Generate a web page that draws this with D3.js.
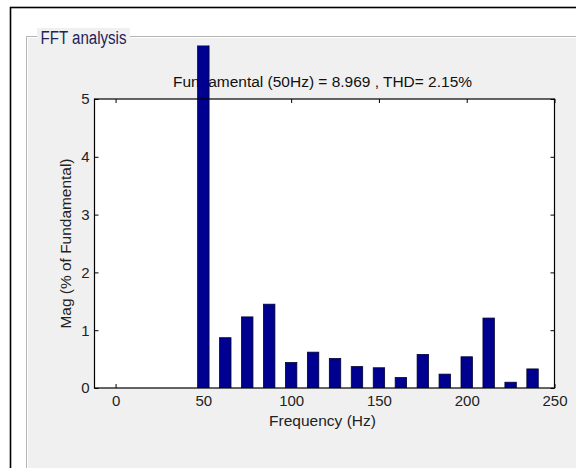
<!DOCTYPE html>
<html>
<head>
<meta charset="utf-8">
<script src="https://cdn.jsdelivr.net/npm/d3@7"></script>
<style>
  body { margin: 0; background: #fff; }
  text { font-family: "Liberation Sans", Arial, sans-serif; }
</style>
</head>
<body>
<div id="chart-area"></div>
<script>
// dados do espectro (% da fundamental)
const freqs = [0, 12.5, 25, 37.5, 50, 62.5, 75, 87.5, 100, 112.5, 125, 137.5, 150, 162.5, 175, 187.5, 200, 212.5, 225, 237.5]
const mags = [0, 0, 0, 0, 100, 0.87, 1.23, 1.45, 0.44, 0.62, 0.51, 0.37, 0.35, 0.18, 0.58, 0.24, 0.54, 1.21, 0.10, 0.33]
const xTicks = [0, 50, 100, 150, 200, 250]
const yTicks = [0, 1, 2, 3, 4, 5]
const titleText = "Fundamental (50Hz) = 8.969 , THD= 2.15%"
const panelTitle = "FFT analysis"

const W = 576, H = 468
const AX = { LEFT: 94.5, RIGHT: 554.5, TOP: 99, BOTTOM: 388 }
const BAR_W = 6.5

const svg = d3.select("#chart-area").append("svg")
  .attr("width", W)
  .attr("height", H)

// moldura externa
svg.append("rect")
  .attr("x", 10.5).attr("y", 7.5)
  .attr("width", W).attr("height", H)
  .attr("fill", "#fff")
  .attr("stroke", "#000")
  .attr("stroke-width", 1.6)

// painel cinza
svg.append("rect")
  .attr("x", 26).attr("y", 36)
  .attr("width", W).attr("height", H)
  .attr("fill", "#f0f0f0")
svg.append("path")
  .attr("d", `M26.5,${H} V36.5 H${W}`)
  .attr("fill", "none")
  .attr("stroke", "#b4b4b4")
svg.append("path")
  .attr("d", `M27.5,${H} V37.5 H${W}`)
  .attr("fill", "none")
  .attr("stroke", "#ffffff")

// titulo do painel
svg.append("rect")
  .attr("x", 37).attr("y", 28)
  .attr("width", 93).attr("height", 20)
  .attr("fill", "#f0f0f0")
svg.append("text")
  .attr("x", 40.5)
  .attr("y", 44)
  .attr("font-size", "18px")
  .attr("textLength", 86)
  .attr("lengthAdjust", "spacingAndGlyphs")
  .attr("fill", "#1e2258")
  .text(panelTitle)

// escalas
const x = d3.scaleLinear().domain([-12, 250]).range([AX.LEFT, AX.RIGHT])
const y = d3.scaleLinear().domain([0, 5]).range([AX.BOTTOM, AX.TOP])

// fundo dos eixos
svg.append("rect")
  .attr("x", AX.LEFT).attr("y", AX.TOP)
  .attr("width", AX.RIGHT - AX.LEFT)
  .attr("height", AX.BOTTOM - AX.TOP)
  .attr("fill", "#fff")

// titulo
svg.append("text")
  .attr("x", (AX.LEFT + AX.RIGHT) / 2 - 2)
  .attr("y", 87)
  .attr("text-anchor", "middle")
  .attr("font-size", "15.5px")
  .attr("textLength", 299)
  .attr("lengthAdjust", "spacingAndGlyphs")
  .attr("fill", "#111")
  .text(titleText)

// eixos com ticks para dentro
const fmt = d => d
svg.append("g")
  .attr("transform", `translate(0, ${AX.BOTTOM})`)
  .call(d3.axisBottom(x).tickValues(xTicks).tickSize(-4).tickPadding(7).tickFormat(fmt))
svg.append("g")
  .attr("transform", `translate(0, ${AX.TOP})`)
  .call(d3.axisTop(x).tickValues(xTicks).tickSize(-4).tickFormat(""))
svg.append("g")
  .attr("transform", `translate(${AX.LEFT}, 0)`)
  .call(d3.axisLeft(y).tickValues(yTicks).tickSize(-4).tickPadding(5).tickFormat(fmt))
svg.append("g")
  .attr("transform", `translate(${AX.RIGHT}, 0)`)
  .call(d3.axisRight(y).tickValues(yTicks).tickSize(-4).tickFormat(""))

svg.selectAll(".domain").remove()
svg.selectAll(".tick line").attr("stroke", "#000")
svg.selectAll(".tick text")
  .attr("font-size", "15px")
  .attr("fill", "#222")
  .attr("font-family", "Liberation Sans, Arial, sans-serif")

// clip das barras (a fundamental sai do eixo)
svg.append("clipPath").attr("id", "clip")
  .append("rect")
  .attr("x", 0).attr("y", 45.5)
  .attr("width", W).attr("height", AX.BOTTOM - 45.5)

// barras
svg.append("g")
  .attr("clip-path", "url(#clip)")
  .selectAll("rect")
  .data(freqs.map((f, i) => ({ f, v: mags[i] })))
  .enter().append("rect")
  .attr("x", d => x(d.f - BAR_W / 2))
  .attr("y", d => y(d.v))
  .attr("width", x(BAR_W) - x(0))
  .attr("height", d => AX.BOTTOM - y(d.v))
  .attr("fill", "#000090")
  .attr("stroke", "#000030")
  .attr("stroke-width", 0.8)

// caixa dos eixos
svg.append("rect")
  .attr("x", AX.LEFT).attr("y", AX.TOP)
  .attr("width", AX.RIGHT - AX.LEFT)
  .attr("height", AX.BOTTOM - AX.TOP)
  .attr("fill", "none")
  .attr("stroke", "#000")
  .attr("stroke-width", 1.2)

// rotulos
svg.append("text")
  .attr("x", (AX.LEFT + AX.RIGHT) / 2 - 2)
  .attr("y", 425.5)
  .attr("text-anchor", "middle")
  .attr("font-size", "15.5px")
  .attr("fill", "#222")
  .text("Frequency (Hz)")

svg.append("text")
  .attr("transform", `translate(70.5, ${(AX.TOP + AX.BOTTOM) / 2}) rotate(-90)`)
  .attr("text-anchor", "middle")
  .attr("font-size", "15.5px")
  .attr("textLength", 170)
  .attr("lengthAdjust", "spacingAndGlyphs")
  .attr("fill", "#222")
  .text("Mag (% of Fundamental)")
</script>
</body>
</html>
